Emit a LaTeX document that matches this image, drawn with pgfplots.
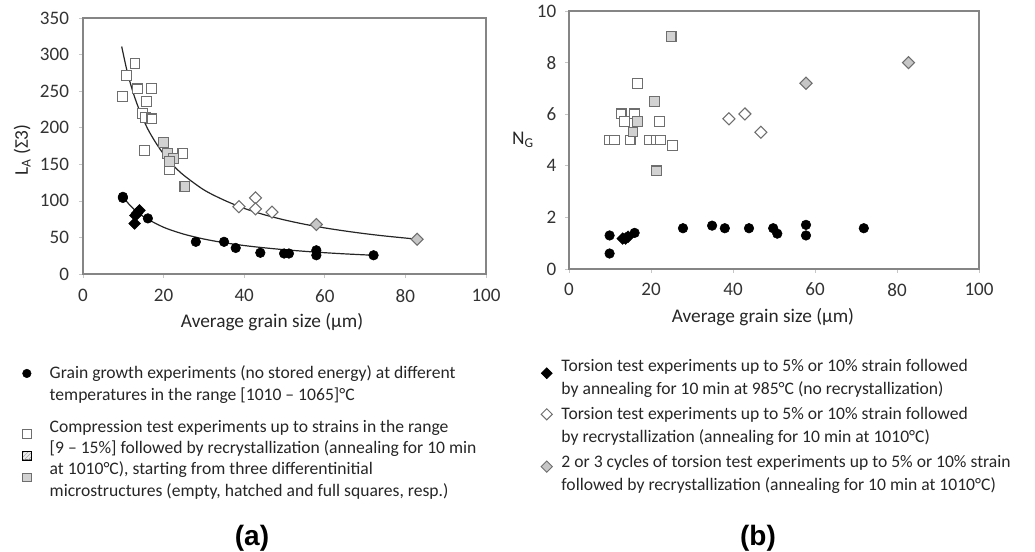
\documentclass[border=0pt]{standalone}
\usepackage{fontspec}
\setmainfont{Carlito}
\newfontfamily\arialf{Liberation Sans}
\usepackage{pgfplots}
\pgfplotsset{compat=1.18}
\usetikzlibrary{patterns}
\definecolor{frame}{HTML}{858585}
\definecolor{sqedge}{HTML}{6E6E6E}
\definecolor{sqfill}{HTML}{D2D2D2}
\definecolor{dmfill}{HTML}{C6C6C6}
\pgfplotsset{
  myax/.style={scale only axis, axis line style={frame, line width=1.1pt},
    tick style={gray!45, line width=0.5pt}, tick align=outside, major tick length=3pt,
    xtick pos=bottom, ytick pos=left,
    xmin=0, xmax=100, xtick={0,20,...,100},
    ticklabel style={font=\fontsize{14.3}{16}\selectfont, text=black!80},
    label style={font=\fontsize{14.5}{16}\selectfont, text=black!85},
    /pgf/number format/assume math mode=true, clip=false,
    legend cell align=left},
  circ/.style={only marks, mark=*, mark size=3.6pt, mark options={fill=black, draw=black}},
  bdia/.style={only marks, mark=square*, mark size=3.1pt, mark options={rotate=45, fill=black, draw=black}},
  wsq/.style={only marks, mark=square*, mark size=3.7pt, mark options={draw=sqedge, fill=white, line width=0.8pt}},
  gsq/.style={only marks, mark=square*, mark size=3.7pt, mark options={draw=sqedge, fill=sqfill, line width=0.8pt}},
  wdia/.style={only marks, mark=square*, mark size=3.2pt, mark options={rotate=45, draw=sqedge, fill=white, line width=0.8pt}},
  gdia/.style={only marks, mark=square*, mark size=3.2pt, mark options={rotate=45, draw=sqedge, fill=dmfill, line width=0.8pt}},
  crv/.style={no marks, black!85, line width=0.9pt, smooth},
}
\begin{document}
\begin{tikzpicture}
\path[use as bounding box] (0,0) rectangle (776.25pt,414pt);
% ---------------- (a) ----------------
\begin{axis}[myax, at={(62.25pt,208.5pt)}, anchor=south west,
  width=302.25pt, height=192pt,
  ymin=0, ymax=350, ytick={0,50,...,350},
  xticklabel style={yshift=-5pt},
  yticklabel style={xshift=-4pt},
  xlabel={Average grain size (µm)},
  xlabel style={at={(axis description cs:0.469,-0.1875)}, anchor=center},
  ylabel={L\textsubscript{A} (Σ3)},
  ylabel style={at={(axis description cs:-0.151,0.484)}, anchor=center, rotate=0},
  legend style={at={(-0.162,-0.348)}, anchor=north west, draw=none, fill=none,
    font=\fontsize{13.2}{16}\selectfont, text=black!85,
    nodes={align=left, inner sep=0pt}, row sep=13.2pt, column sep=13.5pt},
]
\addlegendimage{only marks, mark=*, mark size=3pt, black, legend image code/.code={
  \fill[black] (0.3cm,8pt) circle (3.2pt);}}
\addlegendentry{Grain growth experiments (no stored energy) at different\\temperatures in the range [1010 – 1065]°C}
\addlegendimage{legend image code/.code={
  \draw[sqedge, fill=white, line width=0.7pt] (0.3cm-3.3pt,19pt-3.3pt) rectangle (0.3cm+3.3pt,19pt+3.3pt);
  \draw[sqedge, fill=gray!15, line width=0.7pt] (0.3cm-3.3pt,2.6pt-3.3pt) rectangle (0.3cm+3.3pt,2.6pt+3.3pt);
  \fill[pattern=north east lines, pattern color=gray!70] (0.3cm-3.3pt,2.6pt-3.3pt) rectangle (0.3cm+3.3pt,2.6pt+3.3pt);
  \draw[sqedge, fill=sqfill, line width=0.7pt] (0.3cm-3.3pt,-13.9pt-3.3pt) rectangle (0.3cm+3.3pt,-13.9pt+3.3pt);}}
\addlegendentry{Compression test experiments up to strains in the range\\{[}9 – 15\%{]} followed by recrystallization (annealing for 10 min\\at 1010°C), starting from three differentinitial\\microstructures (empty, hatched and full squares, resp.)}
% fitted curves
\addplot[crv, forget plot] coordinates {(9.6,311) (11,276) (12.5,247) (14,224) (16,199) (18,180) (20,164) (22.5,148) (25,135) (30,115) (35,101) (40,89.7) (45,81) (50,73.9) (55,68) (60,63) (65,58.8) (70,55.1) (75,51.9) (83,47.5)};
\addplot[crv, forget plot] coordinates {(9.9,105.5) (12,92) (15,78.4) (20,63.9) (25,54.5) (30,47.8) (35,42.8) (40,38.9) (45,35.8) (50,33.2) (55,31.0) (60,29.1) (65,27.5) (72,25.6)};
% data
\addplot[wsq, forget plot] coordinates {(9.8,243) (10.8,271) (12.9,288) (13.5,253) (16.9,253.5) (15.8,236) (14.7,219) (15.6,214) (17.1,212) (15.3,168.5) (24.8,165) (21.4,143)};
\addplot[gsq, forget plot] coordinates {(19.9,179.5) (20.9,165) (22.5,158) (21.4,154) (25.3,120)};
\addplot[wdia, forget plot] coordinates {(38.7,92) (42.8,104) (42.8,89) (46.9,84.5)};
\addplot[gdia, forget plot] coordinates {(57.9,67.6) (82.9,47.5)};
\addplot[circ, forget plot] coordinates {(9.9,105.5) (9.9,104) (16.1,76) (28,44) (35,44) (37.9,35.6) (44,29) (49.9,28) (51.1,28) (57.9,32.4) (57.9,25.6) (72.1,25.6)};
\addplot[bdia, forget plot] coordinates {(12.8,69) (13,80) (13.4,83) (14,87)};
\end{axis}
% ---------------- (b) ----------------
\begin{axis}[myax, at={(426.75pt,212.25pt)}, anchor=south west,
  width=307.5pt, height=193.5pt,
  ymin=0, ymax=10, ytick={0,2,...,10},
  xticklabel style={yshift=-4pt},
  yticklabel style={xshift=-3pt},
  xlabel={Average grain size (µm)},
  xlabel style={at={(axis description cs:0.473,-0.186)}, anchor=center},
  ylabel={N\textsubscript{G}},
  ylabel style={at={(axis description cs:-0.112,0.5)}, anchor=center, rotate=-90},
  legend style={at={(-0.0795,-0.338)}, anchor=north west, draw=none, fill=none,
    font=\fontsize{13.2}{17.3}\selectfont, text=black!85,
    nodes={align=left, inner sep=0pt}, row sep=8pt, column sep=6.5pt},
]
\addlegendimage{legend image code/.code={
  \fill[black] (0.3cm,3.4pt-4.2pt) -- (0.3cm+4.2pt,3.4pt) -- (0.3cm,3.4pt+4.2pt) -- (0.3cm-4.2pt,3.4pt) -- cycle;}}
\addlegendentry{Torsion test experiments up to 5\% or 10\% strain followed\\by annealing for 10 min at 985°C (no recrystallization)}
\addlegendimage{legend image code/.code={
  \draw[sqedge, fill=white, line width=0.7pt] (0.3cm,8.6pt-4.2pt) -- (0.3cm+4.2pt,8.6pt) -- (0.3cm,8.6pt+4.2pt) -- (0.3cm-4.2pt,8.6pt) -- cycle;}}
\addlegendentry{Torsion test experiments up to 5\% or 10\% strain followed\\by recrystallization (annealing for 10 min at 1010°C)}
\addlegendimage{legend image code/.code={
  \draw[sqedge, fill=dmfill, line width=0.7pt] (0.3cm,5.3pt-4.2pt) -- (0.3cm+4.2pt,5.3pt) -- (0.3cm,5.3pt+4.2pt) -- (0.3cm-4.2pt,5.3pt) -- cycle;}}
\addlegendentry{2 or 3 cycles of torsion test experiments up to 5\% or 10\% strain\\followed by recrystallization (annealing for 10 min at 1010°C)}
\addplot[wsq, forget plot] coordinates {(9.9,5.0) (11.1,5.0) (12.7,6.01) (16,6.01) (13.6,5.71) (14.9,5.0) (16.7,7.2) (19.7,5.0) (21.4,5.0) (22.4,5.0) (22.1,5.71) (25.2,4.8)};
\addplot[gsq, forget plot] coordinates {(24.9,9.0) (20.9,6.5) (21.4,3.8) (16.7,5.71) (15.6,5.31)};
\addplot[wdia, forget plot] coordinates {(39,5.82) (42.9,6.01) (46.8,5.30)};
\addplot[gdia, forget plot] coordinates {(57.8,7.2) (82.8,8.0)};
\addplot[circ, forget plot] coordinates {(9.9,1.30) (9.9,0.60) (16.0,1.40) (27.8,1.58) (34.9,1.68) (38,1.58) (43.9,1.58) (49.8,1.58) (50.8,1.37) (57.8,1.71) (57.8,1.30) (71.9,1.58)};
\addplot[bdia, forget plot] coordinates {(13.1,1.18) (13.8,1.18) (14.4,1.25)};
\end{axis}
\node[font=\arialf\bfseries\fontsize{21}{22}\selectfont] at (189pt,10.5pt) {(a)};
\node[font=\arialf\bfseries\fontsize{21}{22}\selectfont] at (568.5pt,10.5pt) {(b)};
\end{tikzpicture}
\end{document}
